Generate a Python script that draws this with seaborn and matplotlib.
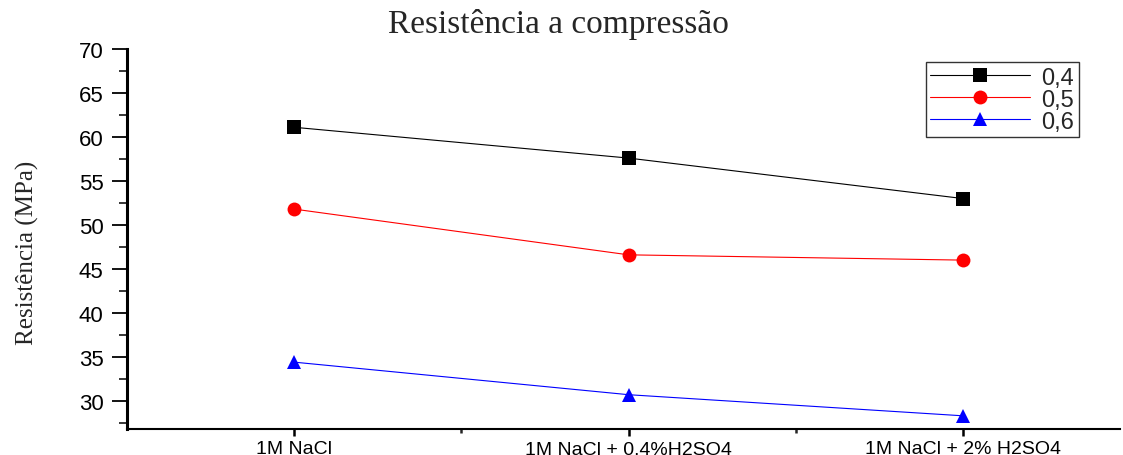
import pandas as pd
import matplotlib
matplotlib.use("Agg")
import matplotlib.pyplot as plt
import seaborn as sns
from matplotlib.ticker import MultipleLocator, FixedLocator

sns.set_style("ticks")
plt.rcParams['font.family'] = ['Liberation Sans', 'DejaVu Sans']

# data
categories = ['1M NaCl', '1M NaCl + 0,4%H2SO4', '1M NaCl + 2% H2SO4']
ratios = ['0,4', '0,5', '0,6']
vals_04 = [61.1, 57.6, 53.0]
vals_05 = [51.8, 46.6, 46.0]
vals_06 = [34.4, 30.7, 28.3]

rows = []
for ratio, vals in zip(ratios, [vals_04, vals_05, vals_06]):
    for i, v in enumerate(vals):
        rows.append({'pos': i + 1, 'ratio': ratio, 'resist': v})
df = pd.DataFrame(rows)

palette = {'0,4': 'black', '0,5': 'red', '0,6': 'blue'}
markers = {'0,4': 's', '0,5': 'o', '0,6': '^'}

fig = plt.figure(figsize=(11.23, 4.56), dpi=100)
ax = fig.add_axes([127 / 1123, 26 / 456, (1120 - 127) / 1123, (430 - 50) / 456])

sns.lineplot(data=df, x='pos', y='resist', hue='ratio', style='ratio',
             hue_order=ratios, style_order=ratios, palette=palette,
             markers=markers, dashes=False, linewidth=0.8, markersize=10,
             markeredgewidth=0, ax=ax)

ax.set_xlim(0.5, 3.47)
ax.set_ylim(26.8, 70)
ax.xaxis.set_major_locator(FixedLocator([1, 2, 3]))
ax.xaxis.set_minor_locator(FixedLocator([1.5, 2.5]))
ax.set_xticklabels(categories)
ax.yaxis.set_major_locator(MultipleLocator(5))
ax.yaxis.set_minor_locator(MultipleLocator(2.5))
ax.set_xlabel('')
ax.set_ylabel('')

for side in ['top', 'right']:
    ax.spines[side].set_visible(False)
ax.spines['left'].set_linewidth(2.2)
ax.spines['bottom'].set_linewidth(1.5)
ax.spines['left'].set_color('black')
ax.spines['bottom'].set_color('black')

ax.tick_params(axis='y', which='major', length=11, width=1.3, labelsize=16, pad=6, colors='black')
ax.tick_params(axis='y', which='minor', length=6, width=1.3)
ax.tick_params(axis='x', which='major', length=5, width=1.8, labelsize=14, pad=3, colors='black')
ax.tick_params(axis='x', which='minor', length=3, width=1.8)

# rebuild the legend without a title
handles, labels = ax.get_legend_handles_labels()
hl = [(h, l) for h, l in zip(handles, labels) if l in ratios]
leg = ax.legend([h for h, _ in hl], [l for _, l in hl], loc='upper right',
                bbox_to_anchor=(1079 / 1123, 1 - 63 / 456), bbox_transform=fig.transFigure,
                borderaxespad=0, fontsize=17, handlelength=4.2, labelspacing=0.0,
                handletextpad=0.5, borderpad=0.2, fancybox=False, frameon=True)
leg.get_frame().set_edgecolor('black')
leg.get_frame().set_linewidth(1.0)

fig.text(558 / 1123, 1 - 25 / 456, 'Resistência a compressão', ha='center', va='center',
         fontsize=24, family=['Liberation Serif', 'DejaVu Serif'])
fig.text(27 / 1123, 1 - 253 / 456, 'Resistência (MPa)', ha='center', va='center',
         rotation=90, fontsize=18, family=['Liberation Serif', 'DejaVu Serif'])

fig.savefig('out.png', dpi=100)
